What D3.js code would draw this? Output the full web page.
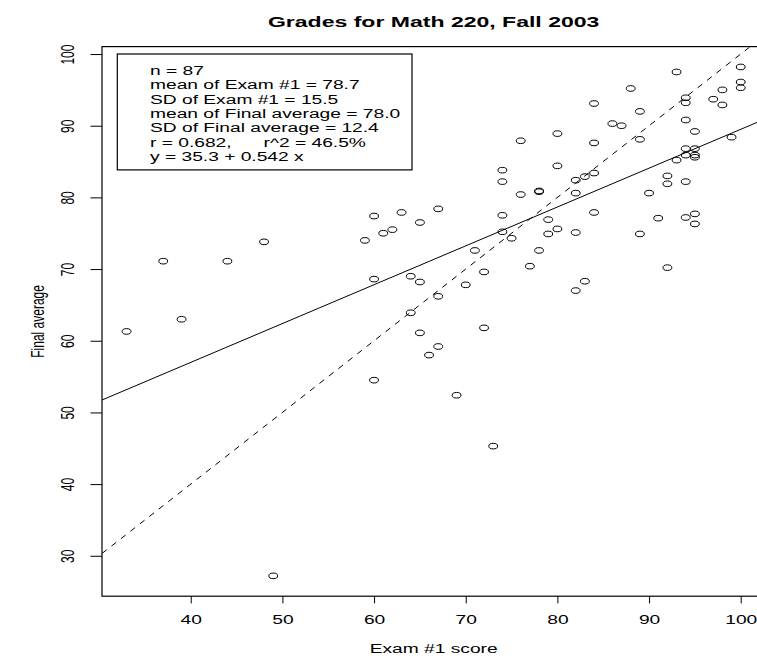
<!DOCTYPE html>
<html>
<head>
<meta charset="utf-8">
<script src="https://cdn.jsdelivr.net/npm/d3@7"></script>
<style>
  html, body { margin: 0; padding: 0; background: #fff; }
  svg { display: block; }
  text { font-family: "Liberation Sans", Arial, Helvetica, sans-serif; fill: #000; }
</style>
</head>
<body>
<svg id="chart" width="757" height="660"></svg>
<script>
// ---- data ----
const examScores = [33,37,39,44,48,60,63,59,61,62,65,60,64,65,64,65,66,60,
  93,100,100,100,88,98,97,98,94,94,84,89,94,86,87,95,80,76,84,89,99,94,95,94,95,95,
  93,80,74,92,74,92,94,84,83,82,
  78,78,
  76,82,90,67,
  74,84,79,91,94,95,95,79,80,82,
  89,74,75,
  71,78,77,72,70,67,92,83,82,72,67,69,
  73,49];
const finalAverages = [61.3,71.1,63.0,71.1,73.8,77.4,77.9,74.0,75.0,75.5,76.5,68.6,69.0,68.2,63.9,61.1,58.0,54.5,
  97.5,98.2,96.1,95.3,95.2,95.0,93.7,92.9,93.9,93.2,93.1,92.0,90.8,90.3,90.0,89.2,88.9,87.9,87.6,88.1,88.4,86.8,86.8,85.9,85.9,85.6,
  85.2,84.4,83.8,83.0,82.2,81.9,82.2,83.4,82.9,82.4,
  80.9,80.8,
  80.4,80.6,80.6,78.4,
  77.5,77.9,76.9,77.1,77.2,77.7,76.3,74.9,75.6,75.1,
  74.9,75.2,74.3,
  72.6,72.6,70.4,69.6,67.8,66.2,70.2,68.3,67.0,61.8,59.2,52.4,
  45.3,27.2];
const xTicks = [40, 50, 60, 70, 80, 90, 100];
const yTicks = [30, 40, 50, 60, 70, 80, 90, 100];
const regIntercept = 35.3;
const regSlope = 0.542;
const legendLines = [
  "n = 87",
  "mean of Exam #1 = 78.7",
  "SD of Exam #1 = 15.5",
  "mean of Final average = 78.0",
  "SD of Final average = 12.4",
  "r = 0.682,      r^2 = 46.5%",
  "y = 35.3 + 0.542 x"
];
const titleText = "Grades for Math 220, Fall 2003";
const xLabel = "Exam #1 score";
const yLabel = "Final average";

// ---- layout ----
const SX = 1.6;            // horizontal stretch of the reference picture
const FS = 12;             // base font size
const plot = { left: 102, right: 765.3, top: 46.6, bottom: 596.2 };

const svg = d3.select("#chart");

// R-style 4% extended ranges
const xExt = d3.extent(examScores), yExt = d3.extent(finalAverages);
const xPad = (xExt[1] - xExt[0]) * 0.04, yPad = (yExt[1] - yExt[0]) * 0.04;
const x = d3.scaleLinear().domain([xExt[0] - xPad, xExt[1] + xPad]).range([plot.left, plot.right]);
const y = d3.scaleLinear().domain([yExt[0] - yPad, yExt[1] + yPad]).range([plot.bottom, plot.top]);

svg.append("defs").append("clipPath").attr("id", "clip")
  .append("rect")
  .attr("x", plot.left).attr("y", plot.top)
  .attr("width", plot.right - plot.left).attr("height", plot.bottom - plot.top);

// points
svg.append("g").selectAll("ellipse")
  .data(examScores.map((d, i) => [d, finalAverages[i]]))
  .join("ellipse")
  .attr("cx", d => x(d[0]))
  .attr("cy", d => y(d[1]))
  .attr("rx", 4.4)
  .attr("ry", 2.8)
  .attr("fill", "none")
  .attr("stroke", "#000")
  .attr("stroke-width", 1);

// lines
const xd = x.domain();
const lines = svg.append("g").attr("clip-path", "url(#clip)");
lines.append("line")
  .attr("x1", x(xd[0])).attr("y1", y(regIntercept + regSlope * xd[0]))
  .attr("x2", x(xd[1])).attr("y2", y(regIntercept + regSlope * xd[1]))
  .attr("stroke", "#000").attr("stroke-width", 1);
lines.append("line")
  .attr("x1", x(xd[0])).attr("y1", y(xd[0]))
  .attr("x2", x(xd[1])).attr("y2", y(xd[1]))
  .attr("stroke", "#000").attr("stroke-width", 1)
  .attr("stroke-dasharray", "6,6");

// axes
const xAxis = svg.append("g")
  .attr("transform", `translate(0,${plot.bottom})`)
  .call(d3.axisBottom(x).tickValues(xTicks).tickSize(7.2).tickSizeOuter(0).tickFormat(d3.format("d")));
xAxis.select(".domain").remove();
xAxis.selectAll(".tick line").attr("stroke", "#000");
xAxis.selectAll(".tick text")
  .attr("y", null).attr("dy", null)
  .attr("transform", `translate(0,${624 - plot.bottom}) scale(${SX},1)`)
  .attr("font-size", FS).attr("text-anchor", "middle");

const yAxis = svg.append("g")
  .attr("transform", `translate(${plot.left},0)`)
  .call(d3.axisLeft(y).tickValues(yTicks).tickSize(11.5).tickSizeOuter(0).tickFormat(d3.format("d")));
yAxis.select(".domain").remove();
yAxis.selectAll(".tick line").attr("stroke", "#000");
yAxis.selectAll(".tick text")
  .attr("x", null).attr("dy", null)
  .attr("transform", `translate(${74.3 - plot.left},0) scale(${SX},1) rotate(-90)`)
  .attr("font-size", FS).attr("text-anchor", "middle");

// box
svg.append("rect")
  .attr("x", plot.left).attr("y", plot.top)
  .attr("width", plot.right - plot.left).attr("height", plot.bottom - plot.top)
  .attr("fill", "none").attr("stroke", "#000").attr("stroke-width", 1.2);

// legend
const leg = { left: 117.3, top: 54, right: 412, lineH: 14.4, first: 70.5, textX: 150 };
svg.append("rect")
  .attr("x", leg.left).attr("y", leg.top)
  .attr("width", leg.right - leg.left)
  .attr("height", leg.first + leg.lineH * (legendLines.length - 1) + 13 - leg.top)
  .attr("fill", "#fff").attr("stroke", "#000").attr("stroke-width", 1.2);
svg.append("g").selectAll("text")
  .data(legendLines)
  .join("text")
  .attr("transform", (d, i) => `translate(${leg.textX},${leg.first + i * leg.lineH}) scale(${SX},1)`)
  .attr("dy", "0.35em")
  .attr("font-size", FS)
  .attr("xml:space", "preserve")
  .style("white-space", "pre")
  .text(d => d);

// title and axis labels
const cx = (plot.left + plot.right) / 2;
svg.append("text")
  .attr("transform", `translate(${cx},27) scale(${SX},1)`)
  .attr("text-anchor", "middle")
  .attr("font-size", 14.4)
  .attr("font-weight", "bold")
  .text(titleText);
svg.append("text")
  .attr("transform", `translate(${cx},653) scale(${SX},1)`)
  .attr("text-anchor", "middle")
  .attr("font-size", FS)
  .text(xLabel);
svg.append("text")
  .attr("transform", `translate(43.5,${(plot.top + plot.bottom) / 2}) scale(${SX},1) rotate(-90)`)
  .attr("text-anchor", "middle")
  .attr("font-size", FS)
  .text(yLabel);
</script>
</body>
</html>
